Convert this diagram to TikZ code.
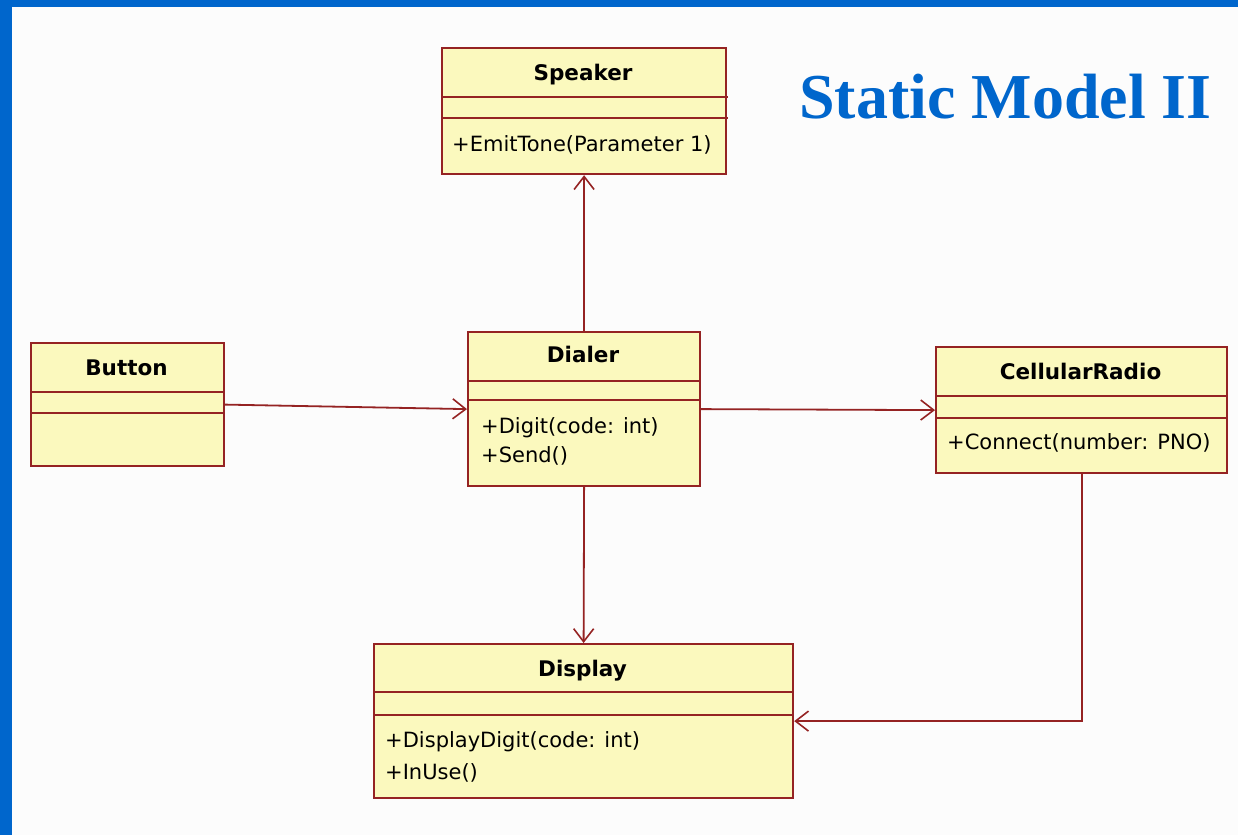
\documentclass[tikz,border=0pt]{standalone}
\usepackage{fontspec}
\setmainfont{Liberation Serif}
\newfontfamily\umlfont{DejaVu Sans}
\usetikzlibrary{arrows.meta}
\definecolor{slideblue}{HTML}{0066CC}
\definecolor{pagebg}{HTML}{FCFCFC}
\definecolor{classfill}{HTML}{FBF9BE}
\definecolor{classline}{HTML}{952323}
\tikzset{
  classbox/.style={draw=classline, fill=classfill, line width=2.2pt, inner sep=0pt, anchor=north west},
  divider/.style={draw=classline, line width=2.2pt},
  classname/.style={font=\umlfont\bfseries\fontsize{21.5}{24}\selectfont, inner sep=0pt, anchor=base},
  member/.style={font=\umlfont\fontsize{21}{24}\selectfont, inner sep=0pt, anchor=base west},
  assoc/.style={draw=classline, line width=1.8pt, -{Straight Barb[length=13pt,width=20pt,line width=1.6pt]}}
}
\begin{document}
\begin{tikzpicture}[x=1pt,y=-1pt]
  % page and slide frame
  \fill[pagebg] (0,0) rectangle (1238,835);
  \useasboundingbox (0,0) rectangle (1238,835);
  \fill[slideblue] (0,0) rectangle (12,835);
  \fill[slideblue] (0,0) rectangle (1238,7);

  % heading
  \node[anchor=base west, inner sep=0pt, text=slideblue,
        font=\bfseries\fontsize{64}{70}\selectfont] (heading) at (799,118) {Static Model II};

  % Speaker
  \node[classbox, minimum width=284pt, minimum height=126pt] (speaker) at (441,47) {};
  \draw[divider] (441,97) -- (728,97);
  \draw[divider] (441,118) -- (728,118);
  \node[classname] (speakername) at (583,80) {Speaker};
  \node[member] (speakerop) at (452,151) {+EmitTone(Parameter 1)};

  % Button
  \node[classbox, minimum width=193pt, minimum height=123pt] (button) at (30,342) {};
  \draw[divider] (30,392) -- (223,392);
  \draw[divider] (30,413) -- (223,413);
  \node[classname] (buttonname) at (126.5,375) {Button};

  % Dialer
  \node[classbox, minimum width=232pt, minimum height=154pt] (dialer) at (467,331) {};
  \draw[divider] (467,381) -- (699,381);
  \draw[divider] (467,400) -- (699,400);
  \node[classname] (dialername) at (583,362) {Dialer};
  \node[member] (dialerop1) at (481,433) {+Digit(code: int)};
  \node[member] (dialerop2) at (481,462) {+Send()};

  % CellularRadio
  \node[classbox, minimum width=291pt, minimum height=126pt] (radio) at (935,346) {};
  \draw[divider] (935,396) -- (1226,396);
  \draw[divider] (935,418) -- (1226,418);
  \node[classname] (radioname) at (1080.5,379) {CellularRadio};
  \node[member] (radioop) at (947,449) {+Connect(number: PNO)};

  % Display
  \node[classbox, minimum width=419pt, minimum height=154pt] (display) at (373,643) {};
  \draw[divider] (373,692) -- (792,692);
  \draw[divider] (373,715) -- (792,715);
  \node[classname] (displayname) at (582.5,676) {Display};
  \node[member] (displayop1) at (385,747) {+DisplayDigit(code: int)};
  \node[member] (displayop2) at (385,779) {+InUse()};

  % associations
  \draw[assoc] (dialer.north) -- (speaker.south);
  \draw[assoc] (button.east) -- (dialer.west);
  \draw[assoc] (dialer.east) -- (radio.west);
  \draw[assoc] (dialer.south) -- (display.north);
  \draw[assoc] (radio.south) |- (display.east);
\end{tikzpicture}
\end{document}
